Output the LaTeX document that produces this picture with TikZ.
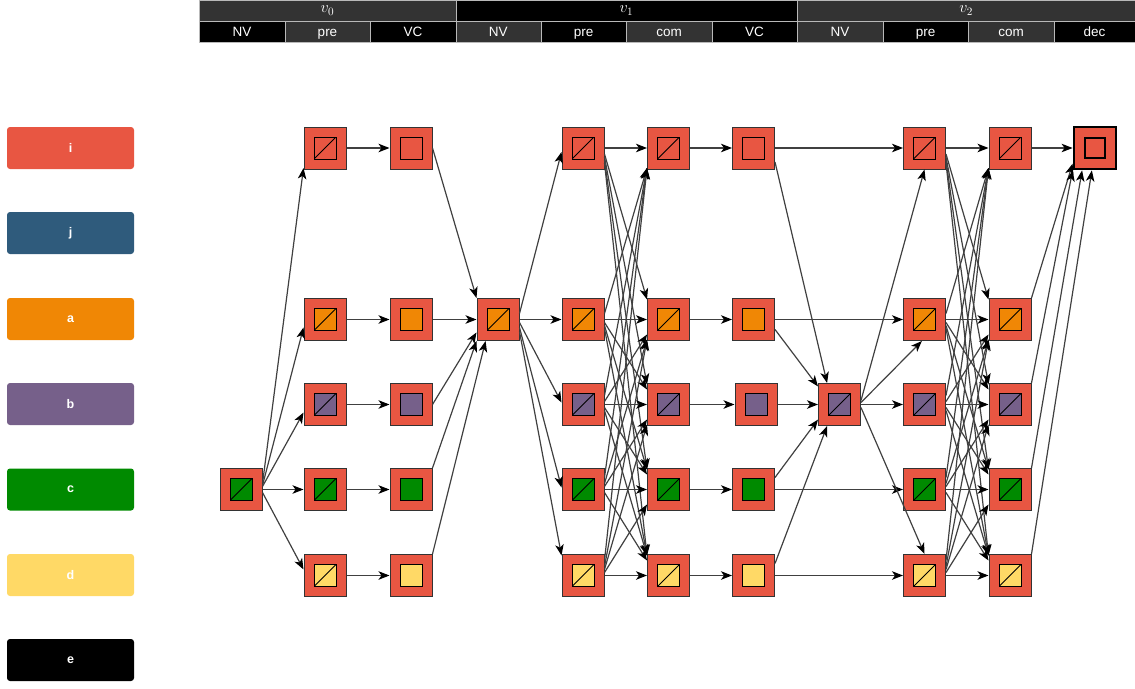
\RequirePackage{fix-cm}
\documentclass[tikz,border=0pt]{standalone}
\usepackage{fontspec}
\setmainfont{Liberation Sans}
\usetikzlibrary{arrows.meta,calc}
\definecolor{cI}{HTML}{E85642}
\definecolor{cJ}{HTML}{2F5B7C}
\definecolor{cA}{HTML}{F08705}
\definecolor{cB}{HTML}{76608A}
\definecolor{cC}{HTML}{008A00}
\definecolor{cD}{HTML}{FFD966}
\definecolor{hgray}{HTML}{333333}
\tikzset{
  outer/.style={draw=black!80, fill=cI, minimum size=42pt, inner sep=0pt, line width=1pt},
  inner/.style={draw=black, minimum size=22pt, inner sep=0pt, line width=1pt},
  diag/.style={path picture={\draw[line width=1pt] (path picture bounding box.south west) -- (path picture bounding box.north east);}},
  edge/.style={draw=black!75, line width=1.2pt, -{Stealth[length=11pt,width=8.5pt,inset=3pt,color=black]}},
  hcell/.style={draw=gray!55, line width=0.5pt, inner sep=0pt, anchor=north west},
  hlab/.style={text=white, font=\fontsize{13.5}{15}\selectfont, inner sep=0pt},
  vlab/.style={text=white, font=\fontsize{16}{18}\selectfont, inner sep=0pt},
  legbox/.style={fill=#1, rounded corners=3pt, minimum width=127pt, minimum height=42pt, text=white, font=\bfseries\fontsize{12.5}{14}\selectfont, inner sep=0pt},
}
\newcommand\blk[5]{%
  \node[outer] (#1) at (#2,#3) {};
  \node[inner, fill=#4, #5] (#1in) at (#1) {};
}
\newcommand\fedge[3]{%
  \pgfmathsetmacro\myE{-sign(#3)*min(15,3*abs(#3))}%
  \pgfmathsetmacro\myI{sign(#3)*min(20,10+5*abs(#3))}%
  \draw[edge] ([yshift=\myE pt]#1.east) -- ([yshift=\myI pt]#2.west);}
\begin{document}
\begin{tikzpicture}[x=1pt,y=-1pt]
\useasboundingbox (0,0) rectangle (1135,688);
% header row 1
\node[hcell, fill=hgray, minimum width=256.5pt, minimum height=20.5pt] (g0) at (199,0) {};
\node[vlab] (g0t) at (g0.center) {$v_0$};
\node[hcell, fill=black, minimum width=341.5pt, minimum height=20.5pt] (g1) at (455.5,0) {};
\node[vlab] (g1t) at (g1.center) {$v_1$};
\node[hcell, fill=hgray, minimum width=338pt, minimum height=20.5pt] (g2) at (797,0) {};
\node[vlab] (g2t) at (g2.center) {$v_2$};
% header row 2
\foreach \k/\xa/\w/\lab/\col in {1/199/85.5/NV/black, 2/284.5/85.5/pre/hgray, 3/370/85.5/VC/black, 4/455.5/85/NV/hgray, 5/540.5/85.5/pre/black, 6/626/85.5/com/hgray, 7/711.5/85.5/VC/black, 8/797/85.5/NV/hgray, 9/882.5/85.5/pre/black, 10/968/85.5/com/hgray, 11/1053.5/81.5/dec/black}{
  \node[hcell, fill=\col, minimum width=\w pt, minimum height=20.5pt] (hc\k) at (\xa,21) {};
  \node[hlab, anchor=base] (hl\k) at ([yshift=-5pt]hc\k.center) {\lab};
}
% legend
\foreach \n/\yy/\col in {i/148/cI, j/233/cJ, a/319/cA, b/404/cB, c/489.5/cC, d/575/cD, e/660/black}{
  \node[legbox=\col] (leg\n) at (70.5,\yy) {\n};
}
% nodes
\blk{n0}{241}{489.5}{cC}{diag}
\foreach \r/\yy/\col in {i/148/cI, a/319.5/cA, b/404.5/cB, c/489.5/cC, d/575.5/cD}{
  \blk{p0\r}{325}{\yy}{\col}{diag}
  \blk{v0\r}{411}{\yy}{\col}{}
  \blk{p1\r}{583}{\yy}{\col}{diag}
  \blk{m1\r}{668.5}{\yy}{\col}{diag}
  \blk{p2\r}{924.5}{\yy}{\col}{diag}
  \blk{m2\r}{1010}{\yy}{\col}{diag}
}
\foreach \r/\yy/\col in {i/148/cI, a/319.5/cA, c/489.5/cC, d/575.5/cD}{
  \blk{w1\r}{753.5}{\yy}{\col}{}
}
\blk{w1b}{756}{404.5}{cB}{}
\blk{n1}{498}{319.5}{cA}{diag}
\blk{n2}{839.5}{404.5}{cB}{diag}
\node[outer, draw=black, line width=2.8pt] (dec) at (1095,148) {};
\node[inner, fill=cI, line width=2.8pt, minimum size=20pt] (decin) at (dec) {};
% NV0 -> pre0
\draw[edge] ([yshift=6pt]n0.east) -- ([yshift=-20pt]p0i.west);
\draw[edge] ([yshift=4pt]n0.east) -- ([yshift=-8pt]p0a.west);
\draw[edge] ([yshift=3pt]n0.east) -- ([yshift=-8pt]p0b.west);
\draw[edge] (n0.east) -- (p0c.west);
\draw[edge] ([yshift=-3pt]n0.east) -- ([yshift=6pt]p0d.west);
% pre0 -> VC0
\foreach \r in {i,a,b,c,d}{\draw[edge] (p0\r.east) -- (v0\r.west);}
% VC0 -> NV1
\draw[edge] (v0i.east) -- (n1.135);
\draw[edge] (v0a.east) -- (n1.west);
\draw[edge] (v0b.east) -- (n1.211);
\draw[edge] (v0c.north east) -- (n1.225);
\draw[edge] (v0d.north east) -- (n1.240);
% NV1 -> pre1
\draw[edge] ([yshift=6pt]n1.east) -- ([yshift=-4pt]p1i.west);
\draw[edge] (n1.east) -- (p1a.west);
\draw[edge] ([yshift=-3pt]n1.east) -- ([yshift=2pt]p1b.west);
\draw[edge] ([yshift=-8pt]n1.east) -- ([yshift=2pt]p1c.west);
\draw[edge] ([yshift=-12pt]n1.east) -- ([yshift=20pt]p1d.west);
% pre1 -> com1 (all pairs)
\foreach \s/\rs in {i/0,a/2,b/3,c/4,d/5}{
  \foreach \t/\rt in {i/0,a/2,b/3,c/4,d/5}{
    \fedge{p1\s}{m1\t}{\rt-\rs}
  }
}
% com1 -> VC1
\foreach \r in {i,a,b,c,d}{\draw[edge] (m1\r.east) -- (w1\r.west);}
% VC1 -> NV2
\draw[edge] ([yshift=-14pt]w1i.east) -- (n2.120);
\draw[edge] ([yshift=-10pt]w1a.east) -- (n2.140);
\draw[edge] (w1b.east) -- (n2.west);
\draw[edge] ([yshift=12pt]w1c.east) -- (n2.215);
\draw[edge] ([yshift=12pt]w1d.east) -- (n2.240);
% VC1 -> pre2
\foreach \r in {i,a,c,d}{\draw[edge] (w1\r.east) -- (p2\r.west);}
% NV2 -> pre2
\draw[edge] ([yshift=4pt]n2.east) -- (p2i.270);
\draw[edge] ([yshift=2pt]n2.east) -- (p2a.263);
\draw[edge] (n2.east) -- (p2b.west);
\draw[edge] ([yshift=-3pt]n2.east) -- (p2d.north);
% pre2 -> com2 (all pairs)
\foreach \s/\rs in {i/0,a/2,b/3,c/4,d/5}{
  \foreach \t/\rt in {i/0,a/2,b/3,c/4,d/5}{
    \fedge{p2\s}{m2\t}{\rt-\rs}
  }
}
% com2 -> dec
\draw[edge] (m2i.east) -- (dec.west);
\draw[edge] (m2a.north east) -- (dec.215);
\draw[edge] (m2b.north east) -- (dec.225);
\draw[edge] (m2c.north east) -- (dec.240);
\draw[edge] (m2d.north east) -- (dec.262);
\end{tikzpicture}
\end{document}
